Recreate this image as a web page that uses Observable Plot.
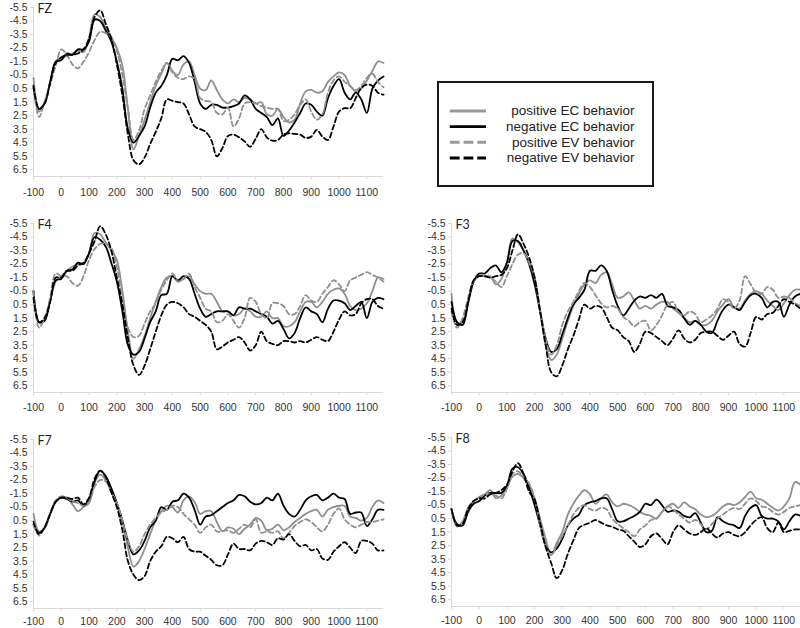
<!DOCTYPE html>
<html>
<head>
<meta charset="utf-8">
<script src="https://cdn.jsdelivr.net/npm/d3@7"></script>
<script src="https://cdn.jsdelivr.net/npm/@observablehq/plot@0.6"></script>
<style>
  html, body { margin: 0; padding: 0; background: #fff; }
  #root { position: relative; width: 800px; height: 628px; overflow: hidden; background: #fff; }
  .panel { position: absolute; }
  #legend { position: absolute; left: 437px; top: 81px; width: 217px; height: 106px; box-sizing: border-box; border: 2px solid #1a1a1a; }
  #legend svg { position: absolute; left: -2px; top: -2px; }
</style>
</head>
<body>
<div id="root"></div>
<script>
// ---- Data (time in ms, amplitude in µV) ----
const times = [-100,-80,-60,-40,-20,0,20,40, 60,80,100,120,140,160,180,200, 220,240,260,280,300,320,340,360,
  380,400,420,440,460,480,500,520, 540,560,580,600,620,640,660,680, 700,720,740,760,780,800,820,840,
  860,880,900,920,940,960,980,1000, 1020,1040,1060,1080,1100,1120,1140,1160];

const seriesNames = ["positive EC behavior", "negative EC behavior", "positive EV behavior", "negative EV behavior"];
const panelLabels = ["FZ", "F4", "F3", "F7", "F8"];
const xTicks = [-100,0,100,200,300,400,500,600,700,800,900,1000,1100];
const yTicks = [-5.5,-4.5,-3.5,-2.5,-1.5,-0.5,0.5,1.5,2.5,3.5,4.5,5.5,6.5];

// FZ
const fzPosEC = [-0.3,2.2,1.5,0.0,-1.5,-1.8,-1.9,-2.1, -2.3,-2.2,-3.3,-5.0,-4.8,-4.0,-3.3,-2.5,
  -1.2,2.0,5.0,4.0,2.8,1.5,0.3,-0.6, -1.4,-0.8,-0.5,-1.3,-1.5,-0.5,0.5,0.6, -0.1,0.6,1.3,1.6,1.3,1.5,1.2,1.3,
  1.6,1.5,2.4,2.5,2.0,2.6,3.0,2.8, 1.6,0.7,0.6,0.8,0.7,0.0,-0.4,-0.7, -0.5,0.3,0.7,0.5,-0.1,-0.8,-1.5,-1.4];
const fzNegEC = [0.4,2.0,1.6,0.0,-1.5,-1.6,-2.1,-2.0, -2.4,-2.4,-3.0,-4.6,-4.5,-3.8,-3.0,-1.5,
  0.5,3.5,4.5,4.0,3.3,1.9,0.8,0.3, -0.5,-1.7,-1.6,-1.9,-1.4,0.0,1.6,2.0, 1.7,1.7,1.9,1.9,1.8,1.6,1.0,1.3,
  2.0,2.3,2.6,3.2,2.7,4.0,3.6,3.0, 2.3,1.6,1.7,2.2,2.5,1.2,0.3,-0.2, 0.8,1.3,0.8,1.3,2.3,0.5,-0.1,-0.4];
const fzPosEV = [0.2,2.6,1.5,0.2,-1.2,-2.4,-2.0,-1.3, -1.0,-1.5,-2.2,-3.1,-3.7,-3.6,-3.3,-2.3,
  -0.5,2.0,4.3,3.6,2.0,1.0,0.0,-0.8, -1.4,-0.7,-0.3,-0.2,-0.4,-0.2,1.2,1.4, 1.5,2.3,2.4,1.9,3.3,2.7,1.6,1.5,
  1.6,1.8,1.9,2.0,2.0,2.9,2.8,2.4, 1.7,1.3,2.2,2.8,2.4,0.8,-0.1,-0.4, 0.0,0.3,0.6,0.3,-0.3,-0.6,0.0,0.4];
const fzNegEV = [0.3,2.0,1.6,0.1,-1.4,-1.8,-2.0,-2.0, -2.1,-2.4,-3.2,-4.8,-5.3,-4.3,-3.2,-1.3,
  1.0,3.9,5.8,6.1,5.6,4.6,3.7,2.7, 1.3,1.4,1.5,1.6,2.4,3.3,3.5,3.7, 4.3,5.5,4.9,4.0,3.9,4.1,4.4,4.8,
  4.2,3.5,4.1,4.35,4.3,3.9,3.8,3.85, 3.9,4.15,4.05,3.55,4.05,4.3,3.3,2.2, 1.95,1.95,1.2,0.45,0.2,0.3,0.8,0.95];

// F4
const f4PosEC = [-0.5,1.8,1.6,0.2,-1.2,-1.6,-2.0,-2.3, -2.5,-2.5,-3.3,-4.8,-4.7,-4.1,-3.5,-2.8,
  -0.5,2.5,4.5,3.8,2.8,1.5,0.3,-0.8, -1.5,-1.6,-1.2,-1.4,-1.6,-1.0,-0.5,-0.3, -0.3,0.3,1.0,1.0,1.3,1.2,0.8,1.0,
  1.4,1.4,1.0,1.5,1.5,2.1,2.1,1.8, 1.0,0.3,0.3,0.7,0.3,-0.3,-0.6,-0.7, -0.3,0.6,0.9,0.8,0.4,-0.5,-1.5,-1.4];
const f4NegEC = [-0.5,1.8,1.7,0.2,-1.3,-1.4,-2.0,-2.1, -2.6,-2.5,-3.3,-4.5,-4.3,-3.8,-2.6,-1.2,
  1.0,3.5,4.2,4.0,3.0,1.8,1.0,-0.2, -0.3,-1.6,-1.3,-1.6,-1.4,-0.3,0.8,1.4, 1.2,1.0,1.0,1.0,1.3,0.7,0.8,0.8,
  1.0,1.2,1.4,1.9,1.7,2.3,3.0,2.6, 1.5,0.7,1.0,1.2,1.8,0.8,0.2,0.2, 0.4,0.9,0.6,0.3,1.5,0.3,0.0,0.1];
const f4PosEV = [-0.5,2.2,1.5,0.0,-1.8,-1.6,-1.6,-1.1, -0.9,-1.6,-2.8,-3.6,-4.0,-4.0,-3.7,-2.3,
  0.2,2.2,2.9,2.8,1.9,1.0,0.4,-0.6, -1.3,-1.8,-1.2,-1.4,-1.8,-0.8,0.0,0.8, 1.0,1.8,1.7,1.2,1.7,2.2,1.5,0.0,
  0.3,1.2,1.5,0.4,0.4,0.6,1.2,1.2, 0.6,-0.2,0.2,0.3,-0.3,-0.8,-1.3,-1.0, -0.5,-1.3,-1.5,-1.7,-1.9,-1.7,-1.5,-1.2];
const f4NegEV = [0.0,1.8,1.5,0.3,-1.5,-1.5,-2.0,-2.0, -2.4,-2.6,-3.3,-4.2,-5.3,-4.7,-3.5,-1.5,
  0.5,3.0,5.0,5.7,5.0,3.8,2.5,1.3, 0.5,0.3,0.4,0.7,1.2,1.4,1.7,2.0, 2.5,3.8,3.6,3.3,3.1,2.9,3.3,3.9,
  3.5,2.5,3.2,3.4,3.5,3.2,3.2,3.3, 3.2,3.3,3.1,2.9,3.1,3.2,2.5,1.6, 1.0,1.3,1.2,0.4,0.1,0.1,0.6,0.8];

// F3
const f3PosEC = [-0.3,1.8,1.8,0.3,-1.2,-1.6,-1.6,-1.6, -1.0,-1.4,-2.6,-4.4,-4.1,-3.5,-2.7,-1.5,
  1.0,3.5,4.6,4.2,3.0,1.7,0.6,-0.3, -1.0,-1.3,-1.1,-1.7,-1.9,-1.0,0.0,-0.1, -0.4,0.2,0.8,0.6,0.8,0.5,0.3,0.3,
  0.8,1.1,1.5,1.8,1.7,2.0,2.0,1.7, 1.0,0.5,0.1,0.7,0.8,0.2,-0.3,-0.5, -0.3,0.2,0.6,0.9,0.4,-0.2,-0.6,-0.6];
const f3NegEC = [0.3,1.8,2.0,0.4,-1.2,-1.8,-1.8,-2.2, -2.4,-1.9,-2.6,-4.2,-4.2,-3.5,-2.5,-1.0,
  1.0,3.0,4.0,3.8,2.7,1.5,0.5,0.0, -0.6,-2.0,-2.0,-2.4,-2.0,-0.6,0.6,1.3, 0.8,0.2,-0.1,0.0,-0.2,0.0,-0.3,0.6,
  0.7,0.9,1.5,2.0,1.7,2.0,2.5,2.6, 1.7,0.9,0.5,0.7,0.9,0.3,-0.2,-0.3, 0.0,0.7,0.3,0.3,1.4,0.5,-0.1,-0.3];
const f3PosEV = [1.0,2.2,1.5,0.0,-1.2,-1.6,-1.6,-1.5, -1.2,-0.8,-1.6,-2.5,-3.2,-3.3,-2.6,-1.5,
  1.0,3.0,4.2,3.5,2.0,1.0,0.3,-0.5, -1.1,-0.8,-0.2,0.4,0.7,0.6,0.8,1.4, 1.7,2.1,1.8,1.7,2.4,2.0,1.3,0.5,
  0.3,1.1,1.3,1.0,1.2,1.8,1.6,1.3, 0.8,0.1,0.3,0.8,0.2,-1.6,-1.0,-0.4, -0.3,-0.8,-0.6,0.0,-0.1,0.0,0.4,0.6];
const f3NegEV = [0.8,2.0,1.8,0.3,-1.3,-1.6,-1.6,-1.5, -1.6,-1.7,-2.2,-3.5,-4.7,-4.0,-3.0,-1.5,
  1.0,3.5,5.5,5.8,5.0,3.8,2.8,1.6, 0.5,0.8,0.6,0.7,1.4,2.2,2.4,2.9, 3.2,4.0,3.4,2.5,2.6,2.9,3.2,3.5,
  3.0,2.4,3.0,3.3,3.1,2.6,2.5,2.5, 2.8,3.1,2.8,2.5,3.4,3.6,2.6,1.4, 1.6,1.2,1.1,0.6,0.1,0.3,0.5,0.8];

// F7
const f7PosEC = [0.0,1.3,1.1,0.0,-0.9,-1.2,-1.2,-0.7, -0.2,-0.5,-0.8,-2.3,-2.9,-2.5,-1.8,-0.8,
  0.5,2.5,3.9,3.5,2.6,1.5,0.5,-0.2, -0.6,-0.5,-0.1,-1.0,-1.3,-0.9,0.0,-0.2, -0.2,0.6,1.3,1.0,1.1,1.5,1.1,0.8,
  0.3,0.5,1.2,1.1,0.8,1.2,1.0,0.6, 0.3,0.0,-0.2,-0.3,0.2,-0.3,-0.5,-0.6, -0.6,0.2,0.3,0.5,0.3,-0.5,-1.0,-0.8];
const f7NegEC = [0.8,1.4,1.0,0.0,-0.9,-1.2,-1.1,-0.9, -1.0,-0.6,-1.1,-2.4,-3.2,-2.8,-1.9,-0.8,
  0.5,2.0,3.0,2.7,2.0,1.0,0.5,-0.5, -0.3,-0.9,-1.0,-1.5,-1.2,-0.3,0.8,0.2, 0.1,-0.2,-0.5,-0.8,-1.0,-1.4,-1.3,-0.9,
  -0.7,-0.8,-1.2,-1.0,-1.5,-0.6,0.0,0.2, -0.3,-1.0,-1.3,-1.4,-1.0,-1.2,-1.5,-1.2, -1.1,0.0,-0.1,-0.1,0.9,0.4,-0.3,-0.3];
const f7PosEV = [0.8,1.6,1.0,0.0,-1.0,-1.3,-1.2,-0.9, -0.8,-0.6,-0.9,-2.0,-2.5,-2.4,-1.6,-0.8,
  0.5,2.0,2.8,2.4,1.5,0.8,0.3,-0.1, -0.3,-0.6,-0.5,0.0,0.4,0.8,1.4,1.0, 0.8,1.3,1.3,1.2,1.4,1.1,0.8,1.0,
  0.4,1.4,1.3,1.4,1.3,1.8,1.4,0.9, 0.6,0.4,0.6,1.0,1.3,0.8,0.0,-0.4, 0.4,0.8,1.0,0.8,0.6,0.6,0.5,0.4];
const f7NegEV = [0.6,1.5,1.0,0.0,-0.9,-1.2,-1.2,-1.1, -1.2,-0.7,-1.2,-2.6,-3.2,-2.7,-1.6,-0.5,
  1.2,3.5,4.5,4.9,4.6,3.5,2.8,2.4, 1.7,1.8,2.1,1.7,2.6,2.8,2.8,3.1, 3.4,3.8,3.8,3.0,2.2,2.6,2.6,2.7,
  2.2,2.0,2.1,2.3,1.8,1.9,1.5,2.0, 2.4,2.3,2.7,2.6,3.3,3.4,2.8,2.4, 2.1,2.5,2.9,2.0,2.0,2.2,2.7,2.7];

// F8
const f8PosEC = [-0.2,1.1,0.7,-0.3,-0.8,-1.1,-1.3,-1.6, -1.0,-1.2,-1.8,-2.6,-2.8,-2.5,-2.0,-1.0,
  0.5,2.0,3.2,2.3,1.5,0.2,-0.6,-1.2, -1.6,-1.3,-0.6,-1.0,-1.3,-0.7,-0.4,-0.6, -0.5,-0.3,0.0,0.2,0.3,0.5,0.0,-0.4,
  -0.6,-0.3,-0.7,-0.4,-0.2,0.2,0.4,0.3, 0.0,-0.4,-0.6,-0.5,-0.7,-1.1,-1.5,-1.0, -0.9,-0.6,-0.3,-0.1,-0.4,-1.0,-2.2,-2.0];
const f8NegEC = [-0.2,0.9,1.0,0.0,-0.6,-0.8,-1.2,-1.4, -1.4,-1.4,-1.9,-3.2,-3.3,-2.8,-1.8,-0.5,
  1.0,2.5,3.0,2.7,2.0,1.0,0.5,0.2, -0.5,-0.7,-0.8,-1.0,-1.0,-0.2,0.7,0.7, 0.5,0.3,0.0,-0.6,-0.5,-0.9,-0.5,0.0,
  -0.1,0.0,0.3,0.4,0.1,0.8,1.5,1.4, 0.4,0.7,0.9,1.0,1.2,0.3,-0.3,-0.5, 0.3,0.5,0.5,0.7,1.3,0.7,0.2,0.3];
const f8PosEV = [-0.2,1.0,0.9,-0.3,-0.8,-1.0,-1.3,-1.3, -1.2,-1.0,-1.7,-2.8,-3.0,-2.6,-2.1,-1.0,
  1.0,2.5,3.2,2.5,1.8,1.0,0.2,-0.3, -0.5,-0.2,-0.1,-0.3,-0.2,0.5,0.9,1.2, 1.5,1.8,1.3,1.0,0.6,0.5,0.0,-0.4,
  -0.2,0.2,0.5,0.8,0.6,0.9,1.3,0.9, 0.5,0.2,-0.1,-0.3,-0.2,-0.6,-1.0,-0.8, -0.4,-0.3,0.0,0.2,0.0,-0.3,-0.4,-0.5];
const f8NegEV = [-0.2,1.0,0.9,-0.2,-0.8,-1.0,-1.0,-1.3, -1.4,-1.6,-2.0,-3.0,-3.6,-2.8,-1.5,-0.9,
  0.8,2.6,3.8,4.9,4.3,3.1,2.1,1.2, 0.95,0.8,0.6,0.8,1.0,1.1,1.3,1.4, 1.8,2.2,2.6,2.4,1.8,1.6,2.0,2.4,
  1.5,1.0,1.3,1.6,1.7,1.5,1.2,1.6, 1.9,1.6,1.5,1.7,1.8,1.5,1.0,0.6, 0.4,1.2,1.5,0.8,1.5,1.4,1.3,1.3];

// ---- Styles (not data) ----
const GRAY = "#8f8f8f";
const seriesStyles = [
  {stroke: GRAY, dash: null},
  {stroke: "#000", dash: null},
  {stroke: GRAY, dash: "5,3"},
  {stroke: "#000", dash: "5,3"}
];
const AXIS = "#d9d9d9";
const TEXT = "#333";
const TICK_FONT = "'Liberation Sans', Arial, sans-serif";

function panel(label, valuesList, opts) {
  const marks = [
    Plot.ruleX([-100], {stroke: AXIS, strokeWidth: 1}),
    Plot.ruleY([7], {stroke: AXIS, strokeWidth: 1}),
    Plot.axisX({ticks: xTicks, tickSize: 3, tickPadding: opts.pad, stroke: AXIS, fill: TEXT, tickFormat: d => String(d), label: null}),
    Plot.axisY({ticks: yTicks, tickSize: 3, tickPadding: 3, stroke: AXIS, fill: TEXT, tickFormat: d => d.toFixed(1), label: null})
  ];
  valuesList.forEach((vals, k) => {
    const rows = vals.map((v, i) => ({t: times[i], v}));
    const st = seriesStyles[k];
    const o = {x: "t", y: "v", stroke: st.stroke, strokeWidth: 1.8, curve: "catmull-rom"};
    if (st.dash) o.strokeDasharray = st.dash;
    marks.push(Plot.line(rows, o));
  });
  marks.push(Plot.text([label], {frameAnchor: "top-left", dx: 4, dy: 1, textAnchor: "start", lineAnchor: "middle", fontSize: 12.5, fill: "#222", fontFamily: "Lato, sans-serif"}));
  const svg = Plot.plot({
    width: 400, height: 200,
    marginTop: 6, marginBottom: 25,
    marginLeft: opts.left ? 33 : 51, marginRight: opts.left ? 17 : 0,
    x: {domain: [-100, 1160], label: null},
    y: {domain: [-5.5, 7], reverse: true, label: null},
    style: {fontFamily: TICK_FONT, fontSize: "10.5px", background: "transparent", overflow: "visible"},
    marks
  });
  const wrap = document.createElement("div");
  wrap.className = "panel";
  wrap.style.left = opts.x + "px";
  wrap.style.top = opts.y + "px";
  wrap.appendChild(svg);
  return wrap;
}

const root = document.getElementById("root");
root.appendChild(panel(panelLabels[0], [fzPosEC, fzNegEC, fzPosEV, fzNegEV], {left: true, x: 0, y: 1, pad: 9}));
root.appendChild(panel(panelLabels[1], [f4PosEC, f4NegEC, f4PosEV, f4NegEV], {left: true, x: 0, y: 217, pad: 8}));
root.appendChild(panel(panelLabels[2], [f3PosEC, f3NegEC, f3PosEV, f3NegEV], {left: false, x: 400, y: 217, pad: 8}));
root.appendChild(panel(panelLabels[3], [f7PosEC, f7NegEC, f7PosEV, f7NegEV], {left: true, x: 0, y: 433, pad: 6}));
root.appendChild(panel(panelLabels[4], [f8PosEC, f8NegEC, f8PosEV, f8NegEV], {left: false, x: 400, y: 431, pad: 7}));

// ---- Legend ----
const legendDiv = document.createElement("div");
legendDiv.id = "legend";
const legendMarks = [];
seriesNames.forEach((name, k) => {
  const st = seriesStyles[k];
  const o = {y: d => d, x1: 0.06, x2: 0.23, stroke: st.stroke === GRAY ? "#999" : "#000", strokeWidth: 3};
  if (st.dash) o.strokeDasharray = "10,4";
  legendMarks.push(Plot.ruleY([name], o));
});
legendMarks.push(Plot.text(seriesNames, {x: 0.925, y: d => d, textAnchor: "end", fontSize: 13.7, fill: "#222"}));
const legendSvg = Plot.plot({
  width: 217, height: 106, margin: 0,
  x: {domain: [0, 1], range: [0, 217], axis: null},
  y: {type: "point", domain: seriesNames, range: [21, 87], axis: null},
  style: {fontFamily: "'Liberation Sans', Arial, sans-serif", background: "transparent"},
  marks: legendMarks
});
legendDiv.appendChild(legendSvg);
root.appendChild(legendDiv);
</script>
</body>
</html>
